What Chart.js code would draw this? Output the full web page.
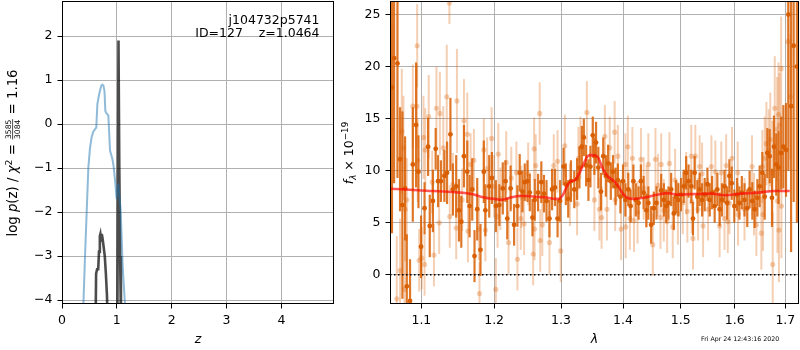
<!DOCTYPE html>
<html>
<head>
<meta charset="utf-8">
<script src="https://cdn.jsdelivr.net/npm/chart.js@4.4.0/dist/chart.umd.min.js"></script>
<style>
  html, body { margin: 0; padding: 0; background: #fff; width: 800px; height: 350px; overflow: hidden; }
  canvas { position: absolute; top: 0; }
  #pz { left: 0; }
  #spec { left: 340px; }
</style>
</head>
<body>
<canvas id="pz" width="340" height="350"></canvas>
<canvas id="spec" width="460" height="350"></canvas>
<script>
// ---- p(z) panel ----
const zTicks = [0, 1, 2, 3, 4];
const logpTicks = [-4, -3, -2, -1, 0, 1, 2];

// light blue curve
const zBlue = [0.36, 0.39, 0.42, 0.45, 0.48, 0.51, 0.54, 0.57, 0.60, 0.625, 0.645, 0.665, 0.69, 0.715, 0.735, 0.755,
  0.775, 0.79, 0.81, 0.845, 0.876, 0.92, 0.94, 0.97, 0.996, 1.026, 1.07, 1.105, 1.148, 1.17];
const logpBlue = [-6, -4.1, -3.0, -2.0, -1.0, -0.55, -0.3, -0.17, -0.12, -0.08, 0.45, 0.6, 0.75, 0.87, 0.9, 0.88,
  0.75, 0.3, 0.25, 0.2, -0.6, -0.8, -0.95, -1.3, -1.7, -1.35, -1.95, -3.2, -4.1, -6];

// dark curve
const zDark = [0.600, 0.622, 0.640, 0.660, 0.675, 0.690, 0.700, 0.715, 0.725, 0.740, 0.760, 0.780, 0.800, 0.820, 0.835, 0.850,
  0.930, 1.005, 1.030, 1.045, 1.060, 1.075, 1.100];
const logpDark = [-6, -3.4, -3.3, -3.3, -2.9, -2.55, -2.5, -2.65, -2.5, -2.6, -2.8, -3.0, -3.4, -3.9, -4.6, -6,
  -14, -6, 1.9, -1.0, -3.0, -4.5, -7];

// ---- spectrum panel ----
const lamTicks = [1.1, 1.2, 1.3, 1.4, 1.5, 1.6, 1.7];
const fluxTicks = [0, 5, 10, 15, 20, 25];
const lamMin = 1.0595, lamMax = 1.728;

const darkLam = [1.0620, 1.0647, 1.0690, 1.0723, 1.0753, 1.0788, 1.0810, 1.0852, 1.0888, 1.0931, 1.0962, 1.0996,
  1.1042, 1.1089, 1.1111, 1.1153, 1.1190, 1.1222, 1.1260, 1.1307, 1.1343, 1.1389, 1.1422, 1.1468, 1.1506, 1.1538,
  1.1575, 1.1621, 1.1653, 1.1690, 1.1722, 1.1760, 1.1806, 1.1853, 1.1875, 1.1930, 1.1968, 1.2025, 1.2075, 1.2125,
  1.2164, 1.2190, 1.2239, 1.2290, 1.2339, 1.2373, 1.2414, 1.2448, 1.2488, 1.2523, 1.2563, 1.2597, 1.2648, 1.2697,
  1.2737, 1.2776, 1.2821, 1.2861, 1.2906, 1.2946, 1.2985, 1.3039, 1.3075, 1.3112, 1.3155, 1.3208, 1.3252, 1.3289,
  1.3327, 1.3359, 1.3396, 1.3433, 1.3465, 1.3503, 1.3529, 1.3556, 1.3593, 1.3636, 1.3673, 1.3716, 1.3753, 1.3797,
  1.3834, 1.3877, 1.3914, 1.3957, 1.4000, 1.4040, 1.4088, 1.4128, 1.4175, 1.4216, 1.4263, 1.4303, 1.4350, 1.4396,
  1.4431, 1.4479, 1.4526, 1.4572, 1.4654, 1.4701, 1.4742, 1.4782, 1.4830, 1.4877, 1.4918, 1.4958, 1.5005, 1.5056,
  1.5098, 1.5142, 1.5191, 1.5222, 1.5252, 1.5302, 1.5344, 1.5389, 1.5437, 1.5487, 1.5530, 1.5574, 1.5622, 1.5672,
  1.5715, 1.5759, 1.5807, 1.5857, 1.5900, 1.5944, 1.5993, 1.6045, 1.6091, 1.6138, 1.6190, 1.6243, 1.6289, 1.6342,
  1.6387, 1.6441, 1.6486, 1.6539, 1.6585, 1.6638, 1.6684, 1.6731, 1.6771, 1.6816, 1.6862, 1.6915, 1.6960, 1.7014,
  1.7062, 1.7117, 1.7170, 1.7237];
const darkFlux = [18.0, 20.8, 20.3, 11.1, 6.7, 8.3, -1.1, -2.5, 10.6, 14.4, 9.9, 2.7,
  6.4, 12.3, 4.7, 7.1, 12.1, 9.0, 9.0, 9.5, 9.8, 13.5, 8.2, 8.5, 6.2, 5.1,
  11.4, 9.9, 6.6, 8.2, 1.8, 6.3, 2.4, 9.9, 6.2, 8.5, 9.3, 6.6, 6.7, 8.3,
  9.0, 5.4, 8.3, 4.8, 6.6, 9.8, 8.0, 8.9, 9.0, 7.9, 5.5, 7.2, 7.9, 8.9,
  7.8, 7.1, 5.4, 8.2, 8.4, 5.4, 7.1, 10.4, 8.7, 7.3, 9.0, 8.2, 9.2, 10.3,
  12.3, 13.2, 10.5, 9.1, 10.4, 13.4, 11.4, 12.7, 10.3, 8.0, 11.4, 9.5, 10.7, 9.0,
  9.9, 8.5, 9.1, 7.5, 9.0, 7.2, 8.2, 6.6, 9.0, 7.2, 6.9, 9.0, 7.9, 6.2,
  6.9, 4.8, 6.4, 6.9, 8.1, 7.2, 6.6, 6.9, 8.2, 5.9, 7.5, 7.2, 7.7, 8.5,
  9.8, 9.0, 8.5, 5.4, 9.8, 7.5, 8.2, 7.2, 7.7, 8.7, 7.2, 7.9, 6.6, 8.2,
  6.3, 7.2, 8.5, 6.9, 9.5, 8.8, 6.6, 7.7, 6.9, 7.9, 7.2, 6.4, 8.2, 7.1,
  6.3, 7.4, 8.5, 9.8, 7.5, 11.7, 11.4, 7.4, 12.3, 10.6, 10.3, 11.7, 12.3, 12.0,
  25.0, 16.2, 22.0, 20.0];
const darkErr = [14, 12, 11, 5, 9, 5, 5, 4, 5.5, 6, 3.5, 3,
  2.5, 2.8, 3, 3, 2, 2.5, 2, 2.5, 3, 3.5, 2.5, 3, 3, 2.5,
  3, 3, 3, 3, 2.5, 3, 2.5, 3, 2.5, 3, 2.5, 2.5, 2, 2.5,
  2, 2, 2.2, 2, 2, 1.8, 2, 1.8, 2, 1.8, 1.8, 2, 1.8, 2,
  1.8, 2, 1.8, 2, 1.8, 1.8, 2, 1.8, 2, 1.8, 2, 1.8, 2, 2,
  2, 1.8, 2, 2, 2, 1.8, 1.8, 2, 2, 1.8, 1.8, 2, 1.8, 1.8,
  1.6, 1.8, 1.6, 1.6, 1.6, 1.6, 1.6, 1.6, 1.6, 1.6, 1.6, 1.6, 1.6, 1.6,
  1.6, 1.8, 1.6, 1.6, 1.6, 1.6, 1.6, 1.6, 1.6, 1.6, 1.6, 1.6, 1.6, 1.6,
  1.6, 1.6, 1.6, 1.6, 1.6, 1.6, 1.6, 1.6, 1.6, 1.6, 1.6, 1.6, 1.6, 1.6,
  1.6, 1.6, 1.6, 1.6, 1.6, 1.6, 1.6, 1.6, 1.6, 1.6, 1.6, 1.8, 1.8, 1.8,
  1.8, 1.8, 2, 2, 2.2, 2.4, 2.6, 2.8, 3, 3, 3.5, 3.5, 4, 4.5,
  15, 14, 15, 15];

const lightLam = [1.0610, 1.0681, 1.0723, 1.0745, 1.0767, 1.0780, 1.0788, 1.0810, 1.0888, 1.0940, 1.0945, 1.0952,
  1.0971, 1.1005, 1.1028, 1.1042, 1.1051, 1.1097, 1.1144, 1.1167, 1.1200, 1.1237, 1.1246, 1.1292, 1.1339, 1.1375,
  1.1380, 1.1422, 1.1468, 1.1478, 1.1550, 1.1575, 1.1621, 1.1630, 1.1667, 1.1713, 1.1783, 1.1792, 1.1853, 1.1875,
  1.1900, 1.1964, 1.2000, 1.2025, 1.2050, 1.2060, 1.2090, 1.2175, 1.2209, 1.2249, 1.2324, 1.2339, 1.2388, 1.2398,
  1.2438, 1.2499, 1.2573, 1.2588, 1.2595, 1.2612, 1.2672, 1.2680, 1.2712, 1.2821, 1.2887, 1.2946, 1.2995, 1.3059,
  1.3139, 1.3252, 1.3273, 1.3305, 1.3408, 1.3529, 1.3610, 1.3646, 1.3700, 1.3734, 1.3780, 1.3861, 1.3870, 1.3914,
  1.3968, 1.4040, 1.4045, 1.4081, 1.4116, 1.4158, 1.4186, 1.4246, 1.4303, 1.4350, 1.4400, 1.4431, 1.4508, 1.4554,
  1.4600, 1.4642, 1.4654, 1.4700, 1.4759, 1.4799, 1.4858, 1.4900, 1.4950, 1.5037, 1.5100, 1.5120, 1.5191, 1.5200,
  1.5222, 1.5265, 1.5315, 1.5344, 1.5389, 1.5407, 1.5500, 1.5561, 1.5635, 1.5715, 1.5746, 1.5807, 1.5838, 1.5869,
  1.5900, 1.5950, 1.6059, 1.6065, 1.6190, 1.6336, 1.6375, 1.6421, 1.6519, 1.6539, 1.6552, 1.6585, 1.6619, 1.6665,
  1.6697, 1.6737, 1.6745, 1.6786, 1.6835, 1.6840, 1.6862, 1.6870, 1.6882, 1.6915, 1.6920, 1.7049, 1.7102];
const lightFlux = [14.0, -2.3, 0.4, 13.8, 12.2, -1.4, 6.3, 7.2, 16.2, 16.2, 22.0, 11.0,
  1.4, 1.6, 13.2, 1.0, 12.0, 15.2, 8.9, 1.9, 16.0, 5.0, 15.5, 12.2, 17.1, 26.1,
  5.6, 8.7, 4.5, 16.7, 7.2, 14.8, 13.5, 4.2, 10.6, 11.0, 4.4, -1.8, 12.0, 4.3,
  10.2, 13.1, 8.5, -1.4, 5.6, 11.6, 7.3, 10.8, 3.1, 9.3, 9.8, 1.5, 5.4, 7.5,
  4.9, 9.7, 2.0, 12.1, 4.4, 10.5, 15.5, 3.3, 4.8, 3.1, 10.5, 10.9, 2.3, 12.4,
  7.7, 6.8, 11.2, 12.2, 15.6, 7.2, 6.3, 5.5, 13.3, 6.3, 12.2, 13.7, 7.2, 11.4,
  4.4, 10.6, 4.6, 12.3, 5.4, 11.2, 5.2, 6.0, 11.1, 8.3, 7.5, 10.6, 2.9, 11.1,
  8.6, 5.5, 10.6, 6.2, 5.1, 10.7, 4.6, 9.1, 5.9, 6.9, 8.8, 6.1, 11.4, 7.0,
  3.5, 11.4, 6.3, 10.4, 9.7, 4.7, 6.3, 10.4, 9.9, 4.7, 9.8, 5.4, 10.5, 5.1,
  6.9, 11.2, 9.8, 5.8, 6.3, 10.4, 6.8, 4.8, 4.0, 10.4, 5.8, 11.2, 12.6, 11.9,
  13.0, 9.8, 1.0, 16.0, 14.0, 7.1, 15.4, 4.3, 14.4, 19.8, 6.6, 22.4, 17.1];
const lightErr = [10, 6, 5, 6, 5, 5, 5, 4, 4, 4, 4, 4,
  3, 3, 4, 3, 4, 4, 3, 3, 4, 3, 4, 4, 5, 2,
  3, 3, 3, 5, 3, 4, 4, 3, 3, 3, 3, 3, 3, 3,
  3, 3, 3, 3, 3, 3, 3, 3, 3, 3, 3, 3, 3, 3,
  3, 3, 3, 3, 3, 3, 3, 3, 3, 3, 3, 3, 3, 3,
  3, 3, 3, 3, 3, 3, 3, 3, 3, 3, 3, 3, 3, 3,
  3, 3, 3, 3, 3, 3, 3, 3, 3, 3, 3, 3, 3, 3,
  3, 3, 3, 3, 3, 3, 3, 3, 3, 3, 3, 3, 3, 3,
  3, 3, 3, 3, 3, 3, 3, 3, 3, 3, 3, 3, 3, 3,
  3, 3, 3, 3, 3, 3, 3, 3, 3.5, 3.5, 3.5, 4, 4, 4,
  4.5, 5, 5, 5, 5, 5, 5, 5, 5, 5, 5, 6, 6];

// red model
const lamModel = [1.060, 1.080, 1.100, 1.130, 1.153, 1.170, 1.181, 1.192, 1.200, 1.210, 1.225, 1.240, 1.260, 1.275,
  1.290, 1.297, 1.303, 1.310, 1.3155, 1.322, 1.329, 1.336, 1.342, 1.348, 1.358, 1.365, 1.374, 1.385, 1.392, 1.401,
  1.407, 1.418, 1.435, 1.458, 1.479, 1.494, 1.519, 1.556, 1.580, 1.614, 1.645, 1.678, 1.709];
const fluxModel = [8.27, 8.2, 8.1, 8.0, 7.9, 7.75, 7.5, 7.35, 7.3, 7.2, 7.45, 7.6, 7.5, 7.45,
  7.3, 7.3, 7.7, 8.6, 9.0, 9.1, 9.8, 10.7, 11.4, 11.5, 11.35, 10.4, 9.5, 9.0, 8.5, 7.7,
  7.4, 7.3, 7.4, 7.7, 7.85, 7.7, 7.75, 7.8, 7.65, 7.8, 7.9, 8.05, 8.05];

const FAMILY = 'DejaVu Sans';
const FS = 12.5;

function fmt(v) {
  return v < 0 ? '\u2212' + Math.abs(v) : String(v);
}

function pts(xs, ys) {
  return xs.map((x, i) => ({ x: x, y: ys[i] }));
}

function axis(min, max, tickList, extra) {
  return Object.assign({
    min: min,
    max: max,
    afterBuildTicks: s => { s.ticks = tickList.map(v => ({ value: v })); },
    ticks: {
      color: '#000', font: { family: FAMILY, size: FS }, padding: 5,
      autoSkip: false, maxRotation: 0, callback: v => fmt(v)
    },
    grid: { color: '#b0b0b0', lineWidth: 1, tickColor: '#000', tickLength: 4.5, tickWidth: 1 },
    border: { display: false }
  }, extra);
}

// fixed axis boxes so the plot areas land where the reference has them
function xFit(s) {
  s.height = 46;
  s.paddingLeft = 0;
  s.paddingRight = 0;
}
function yFit(w) {
  return s => {
    s.width = w;
    s.paddingTop = 0;
    s.paddingBottom = 0;
  };
}

// frame on all four sides
const frame = {
  id: 'frame',
  afterDraw(chart) {
    const { ctx, chartArea: a } = chart;
    ctx.save();
    ctx.strokeStyle = '#000';
    ctx.lineWidth = 1;
    ctx.strokeRect(Math.round(a.left) + 0.5, Math.round(a.top) + 0.5,
      Math.round(a.right - a.left) - 1, Math.round(a.bottom - a.top) - 1);
    ctx.restore();
  }
};

// error bars drawn just under each dataset's points
const errBars = {
  id: 'errBars',
  beforeDatasetDraw(chart, args) {
    const ds = chart.data.datasets[args.index];
    if (!ds.errors) return;
    const { ctx, chartArea: a, scales } = chart;
    ctx.save();
    ctx.beginPath();
    ctx.rect(a.left, a.top, a.right - a.left, a.bottom - a.top);
    ctx.clip();
    ctx.strokeStyle = ds.errColor;
    ctx.lineWidth = ds.errWidth;
    ds.data.forEach((p, i) => {
      const px = scales.x.getPixelForValue(p.x);
      ctx.beginPath();
      ctx.moveTo(px, scales.y.getPixelForValue(p.y - ds.errors[i]));
      ctx.lineTo(px, scales.y.getPixelForValue(p.y + ds.errors[i]));
      ctx.stroke();
    });
    ctx.restore();
  }
};

// rotated label made of runs (mathtext-like)
function drawRuns(ctx, cx, cy, runs) {
  ctx.save();
  ctx.translate(cx, cy);
  ctx.rotate(-Math.PI / 2);
  ctx.fillStyle = '#000';
  ctx.strokeStyle = '#000';
  ctx.textBaseline = 'alphabetic';
  ctx.textAlign = 'left';
  const widths = runs.map(r => {
    ctx.font = r.font;
    if (r.frac) return Math.max(ctx.measureText(r.frac[0]).width, ctx.measureText(r.frac[1]).width) + 2;
    return ctx.measureText(r.t).width;
  });
  let u = -widths.reduce((s, w) => s + w, 0) / 2;
  runs.forEach((r, i) => {
    ctx.font = r.font;
    const w = widths[i];
    if (r.frac) {
      ctx.textAlign = 'center';
      ctx.fillText(r.frac[0], u + w / 2, -5.8);
      ctx.fillText(r.frac[1], u + w / 2, 2.8);
      ctx.textAlign = 'left';
      ctx.lineWidth = 0.7;
      ctx.beginPath();
      ctx.moveTo(u + 0.5, -4.4);
      ctx.lineTo(u + w - 0.5, -4.4);
      ctx.stroke();
    } else {
      ctx.fillText(r.t, u, r.dy || 0);
    }
    u += w;
  });
  ctx.restore();
}

const base = FS + 'px "' + FAMILY + '"';
const ital = 'italic ' + FS + 'px "' + FAMILY + '"';
const small = '8.8px "' + FAMILY + '"';
const smallIt = 'italic 8.8px "' + FAMILY + '"';
const lbl = '13.3px "' + FAMILY + '"';
const lblIt = 'italic 13.3px "' + FAMILY + '"';
const lblSmall = '9.3px "' + FAMILY + '"';
const tiny = '7.6px "' + FAMILY + '"';

const pzText = {
  id: 'pzText',
  afterDraw(chart) {
    const { ctx, chartArea: a } = chart;
    ctx.save();
    ctx.fillStyle = '#000';
    ctx.font = base;
    ctx.textAlign = 'right';
    ctx.textBaseline = 'middle';
    ctx.fillText('j104732p5741', a.right - 14.5, 21);
    ctx.fillText('ID=127    z=1.0464', a.right - 14.5, 33.5);
    ctx.restore();
    drawRuns(ctx, 17, 153, [
      { t: 'log ', font: lbl },
      { t: 'p', font: lblIt },
      { t: '(z) / ', font: lbl },
      { t: '\u03c7', font: lblIt },
      { t: '2', font: lblSmall, dy: -5.3 },
      { t: ' = ', font: lbl },
      { frac: ['3585', '3084'], font: tiny },
      { t: ' = 1.16', font: lbl }
    ]);
  }
};

const specText = {
  id: 'specText',
  afterDraw(chart) {
    const { ctx } = chart;
    drawRuns(ctx, 12.5, 153, [
      { t: 'f', font: ital },
      { t: '\u03bb', font: smallIt, dy: 3 },
      { t: ' \u00d7 10', font: base },
      { t: '\u221219', font: small, dy: -5 }
    ]);
    ctx.save();
    ctx.fillStyle = '#000';
    ctx.font = '6.25px "' + FAMILY + '"';
    ctx.textAlign = 'left';
    ctx.textBaseline = 'middle';
    ctx.fillText('Fri Apr 24 12:43:16 2020', 361, 339.5);
    ctx.restore();
  }
};

const common = {
  responsive: false,
  animation: false,
  events: [],
  plugins: { legend: { display: false }, tooltip: { enabled: false } }
};

new Chart(document.getElementById('pz'), {
  type: 'scatter',
  data: {
    datasets: [
      {
        data: pts(zDark, logpDark), showLine: true, borderColor: 'rgba(0,0,0,0.7)', borderWidth: 2.6,
        pointRadius: 0, tension: 0, clip: 0, order: 2
      },
      {
        data: pts(zBlue, logpBlue), showLine: true, borderColor: 'rgba(31,119,180,0.5)', borderWidth: 2,
        pointRadius: 0, tension: 0, clip: 0, order: 1
      }
    ]
  },
  options: Object.assign({}, common, {
    layout: { autoPadding: false, padding: { top: 1, right: 6, left: 0, bottom: 0 } },
    scales: {
      x: axis(0, 4.96, zTicks, {
        type: 'linear',
        afterFit: xFit,
        title: {
          display: true, text: 'z', color: '#000',
          font: { family: FAMILY, size: FS, style: 'italic' }, padding: { top: 0, bottom: 2.5 }
        }
      }),
      y: axis(-4.09, 2.8, logpTicks, {
        type: 'linear',
        afterFit: yFit(62)
      })
    }
  }),
  plugins: [frame, pzText]
});

new Chart(document.getElementById('spec'), {
  type: 'scatter',
  data: {
    datasets: [
      {
        data: pts(lightLam, lightFlux), errors: lightErr, errColor: 'rgba(217,95,2,0.3)', errWidth: 2,
        pointRadius: 2.6, pointBackgroundColor: 'rgba(217,95,2,0.3)', pointBorderWidth: 0, clip: 0, order: 5
      },
      {
        data: pts(darkLam, darkFlux), errors: darkErr, errColor: 'rgba(217,95,2,0.85)', errWidth: 2.2,
        pointRadius: 2.4, pointBackgroundColor: 'rgb(217,95,2)', pointBorderWidth: 0, clip: 0, order: 4
      },
      {
        data: pts(lamModel, fluxModel), showLine: true, borderColor: 'rgba(255,0,0,0.65)', borderWidth: 2.6,
        pointRadius: 0, cubicInterpolationMode: 'monotone', clip: 0, order: 2
      },
      {
        data: [{ x: lamMin, y: 0 }, { x: lamMax, y: 0 }], showLine: true, borderColor: '#000', borderWidth: 1.5,
        borderDash: [1.5, 2.5], pointRadius: 0, clip: 0, order: 1
      }
    ]
  },
  options: Object.assign({}, common, {
    layout: { autoPadding: false, padding: { top: 1, right: 1, left: 0, bottom: 0 } },
    scales: {
      x: axis(lamMin, lamMax, lamTicks, {
        type: 'logarithmic',
        afterFit: xFit,
        ticks: {
          color: '#000', font: { family: FAMILY, size: FS }, padding: 5,
          autoSkip: false, maxRotation: 0, callback: v => Number(v).toFixed(1)
        },
        title: {
          display: true, text: '\u03bb', color: '#000',
          font: { family: FAMILY, size: FS, style: 'italic' }, padding: { top: 0, bottom: 2.5 }
        }
      }),
      y: axis(-2.8, 26.3, fluxTicks, {
        type: 'linear',
        afterFit: yFit(50)
      })
    }
  }),
  plugins: [errBars, frame, specText]
});
</script>
</body>
</html>
